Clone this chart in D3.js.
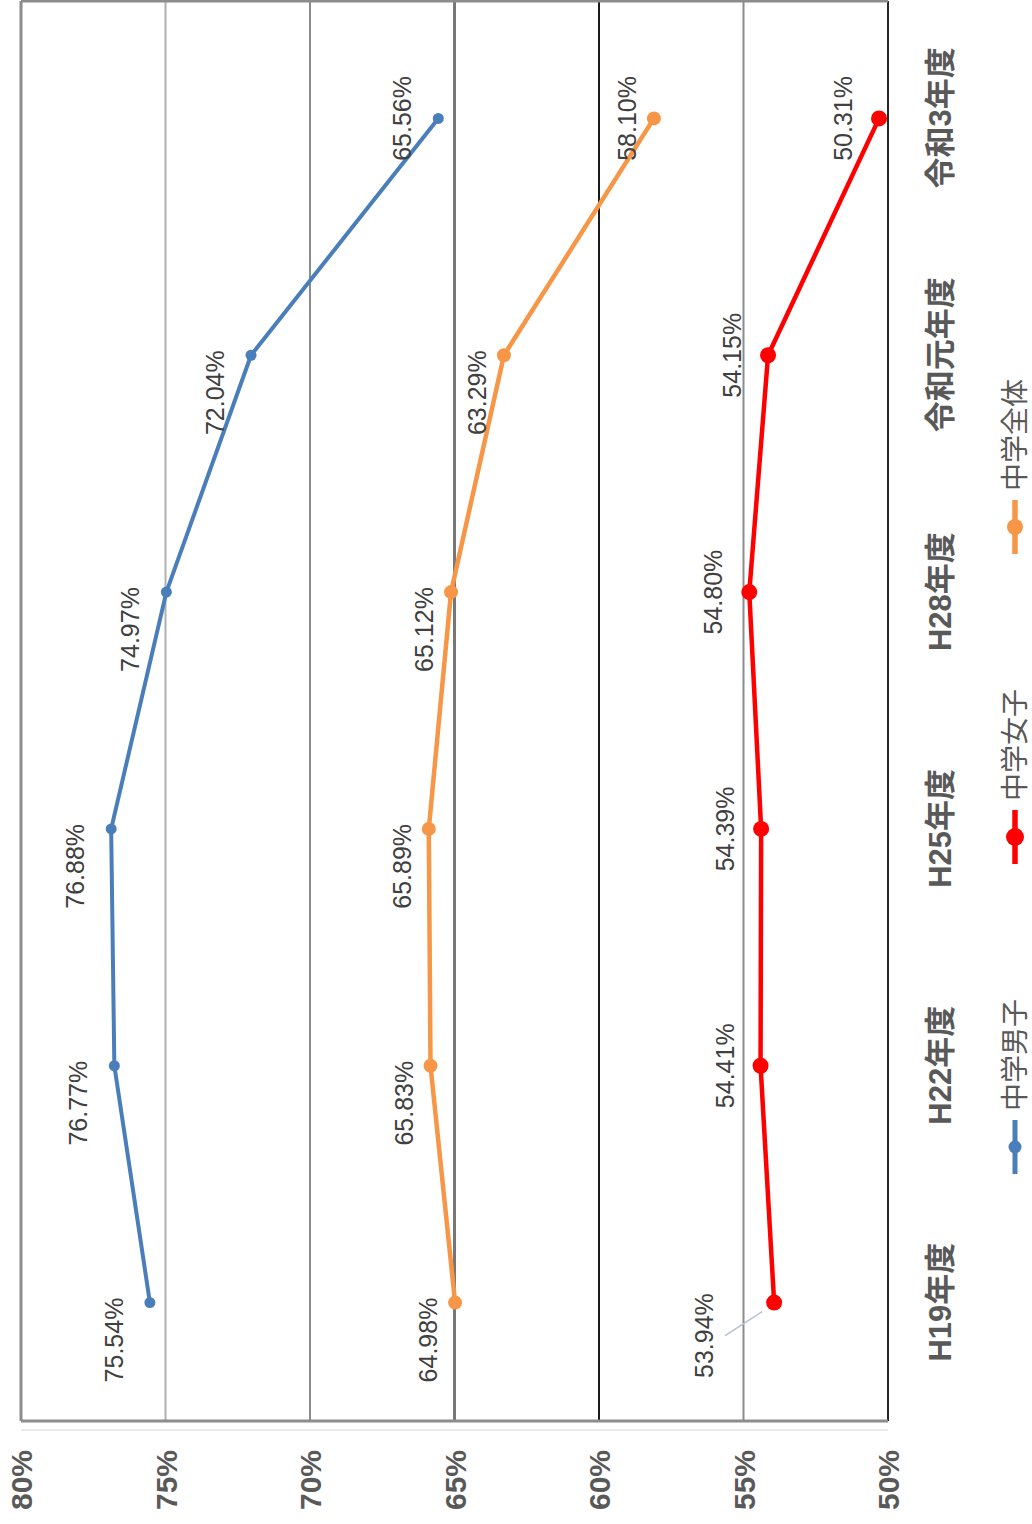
<!DOCTYPE html>
<html>
<head>
<meta charset="utf-8">
<script src="https://cdn.jsdelivr.net/npm/d3@7"></script>
<style>
  body { margin: 0; background: #ffffff; }
  svg { display: block; }
</style>
</head>
<body>
<svg id="chart" width="1032" height="1524"></svg>
<script>
// ---- data ----
const categories = ["H19年度", "H22年度", "H25年度", "H28年度", "令和元年度", "令和3年度"];
const boysValues = [75.54, 76.77, 76.88, 74.97, 72.04, 65.56];
const girlsValues = [53.94, 54.41, 54.39, 54.80, 54.15, 50.31];
const allValues = [64.98, 65.83, 65.89, 65.12, 63.29, 58.10];
const seriesNames = ["中学男子", "中学女子", "中学全体"];
const valueTicks = [80, 75, 70, 65, 60, 55, 50];

// ---- layout (chart is laid out landscape, then turned a quarter turn) ----
const W = 1524, H = 1032;
const plot = { left: 103, right: 1523, top: 21, bottom: 888 };
const latin = "'Liberation Sans', Arial, 'Noto Sans CJK JP', sans-serif";

const series = [
  { name: seriesNames[0], values: boysValues,  color: "#4A7EBB", r: 5.5, width: 4,   labelGap: 36, anchorEnd: true },
  { name: seriesNames[1], values: girlsValues, color: "#FF0000", r: 8,   width: 4.5, labelGap: 36, anchorEnd: false },
  { name: seriesNames[2], values: allValues,   color: "#F79646", r: 7,   width: 4.5, labelGap: 27, anchorEnd: true }
];

// gridline look per tick value
const gridStyle = {
  80: { stroke: "#8c8c8c", width: 3 },
  75: { stroke: "#b0b0b0", width: 2 },
  70: { stroke: "#8c8c8c", width: 2 },
  65: { stroke: "#777777", width: 3 },
  60: { stroke: "#1a1a1a", width: 2 },
  55: { stroke: "#8c8c8c", width: 2 },
  50: { stroke: "#262626", width: 2 }
};

const svg = d3.select("#chart");
const g = svg.append("g").attr("transform", `translate(0,${W}) rotate(-90)`);

const x = d3.scalePoint().domain(categories).range([plot.left, W]).padding(0.5);
const y = d3.scaleLinear().domain([50, 80]).range([plot.bottom, plot.top]);

// gridlines
g.append("g").selectAll("line").data(valueTicks).join("line")
  .attr("x1", plot.left).attr("x2", plot.right)
  .attr("y1", d => y(d)).attr("y2", d => y(d))
  .attr("stroke", d => gridStyle[d].stroke)
  .attr("stroke-width", d => gridStyle[d].width);

// plot frame ends
g.append("line").attr("x1", plot.left).attr("x2", plot.left)
  .attr("y1", y(80)).attr("y2", y(50)).attr("stroke", "#8c8c8c").attr("stroke-width", 3);
g.append("line").attr("x1", plot.right).attr("x2", plot.right)
  .attr("y1", y(80)).attr("y2", y(50)).attr("stroke", "#8c8c8c").attr("stroke-width", 3);
g.append("line").attr("x1", plot.left - 9).attr("x2", plot.left - 9)
  .attr("y1", y(80)).attr("y2", y(50)).attr("stroke", "#ebebeb").attr("stroke-width", 2);

// value axis labels
const yAxis = g.append("g").attr("transform", `translate(80,0)`)
  .call(d3.axisLeft(y).tickValues(valueTicks).tickFormat(d => d + "%").tickSize(0).tickPadding(6));
yAxis.select(".domain").remove();
yAxis.selectAll("text")
  .attr("font-family", latin).attr("font-size", 30).attr("font-weight", "bold")
  .attr("fill", "#595959").attr("dy", "0.36em");

// category labels
const xAxis = g.append("g").attr("transform", `translate(0,${plot.bottom})`)
  .call(d3.axisBottom(x).tickSize(0));
xAxis.select(".domain").remove();
xAxis.selectAll("text")
  .attr("font-family", latin).attr("font-size", 31).attr("font-weight", "bold")
  .attr("fill", "#595959").attr("y", 52).attr("dy", "0.36em");

// lines and markers
const line = d3.line().x((d, i) => x(categories[i])).y(d => y(d));
series.forEach(s => {
  g.append("path").datum(s.values)
    .attr("d", line).attr("fill", "none")
    .attr("stroke", s.color).attr("stroke-width", s.width)
    .attr("stroke-linejoin", "round");
  g.append("g").selectAll("circle").data(s.values).join("circle")
    .attr("cx", (d, i) => x(categories[i])).attr("cy", d => y(d))
    .attr("r", s.r).attr("fill", s.color);
});

// the first girls' label sits off to the side with a leader line
const moved = { series: 1, index: 0, dx: -33, dy: -34 };

// value labels
series.forEach((s, si) => {
  s.values.forEach((v, i) => {
    const px = x(categories[i]), py = y(v);
    const last = i === s.values.length - 1;
    let anchor = (s.anchorEnd && !last) ? "end" : "middle";
    let tx = anchor === "end" ? px + 5 : px;
    let ty = py - s.labelGap;
    if (si === moved.series && i === moved.index) {
      tx += moved.dx; ty += moved.dy;
      g.append("line")
        .attr("x1", tx).attr("y1", ty + 21)
        .attr("x2", px - 9).attr("y2", py - 12)
        .attr("stroke", "#b8c0d4").attr("stroke-width", 1.5);
    }
    g.append("text")
      .attr("x", tx).attr("y", ty).attr("dy", "0.36em")
      .attr("text-anchor", anchor)
      .attr("font-family", latin).attr("font-size", 25)
      .attr("fill", "#404040")
      .text(v.toFixed(2) + "%");
  });
});

// legend
const legendY = 1015, legendStart = 377, legendStep = 310;
series.forEach((s, i) => {
  const cx = legendStart + i * legendStep;
  const lg = g.append("g");
  lg.append("line").attr("x1", cx - 27).attr("x2", cx + 27)
    .attr("y1", legendY).attr("y2", legendY)
    .attr("stroke", s.color).attr("stroke-width", s.width + 1);
  lg.append("circle").attr("cx", cx).attr("cy", legendY).attr("r", s.r + 1).attr("fill", s.color);
  lg.append("text").attr("x", cx + 36).attr("y", legendY).attr("dy", "0.36em")
    .attr("font-family", latin).attr("font-size", 28).attr("fill", "#595959")
    .text(s.name);
});
</script>
</body>
</html>
